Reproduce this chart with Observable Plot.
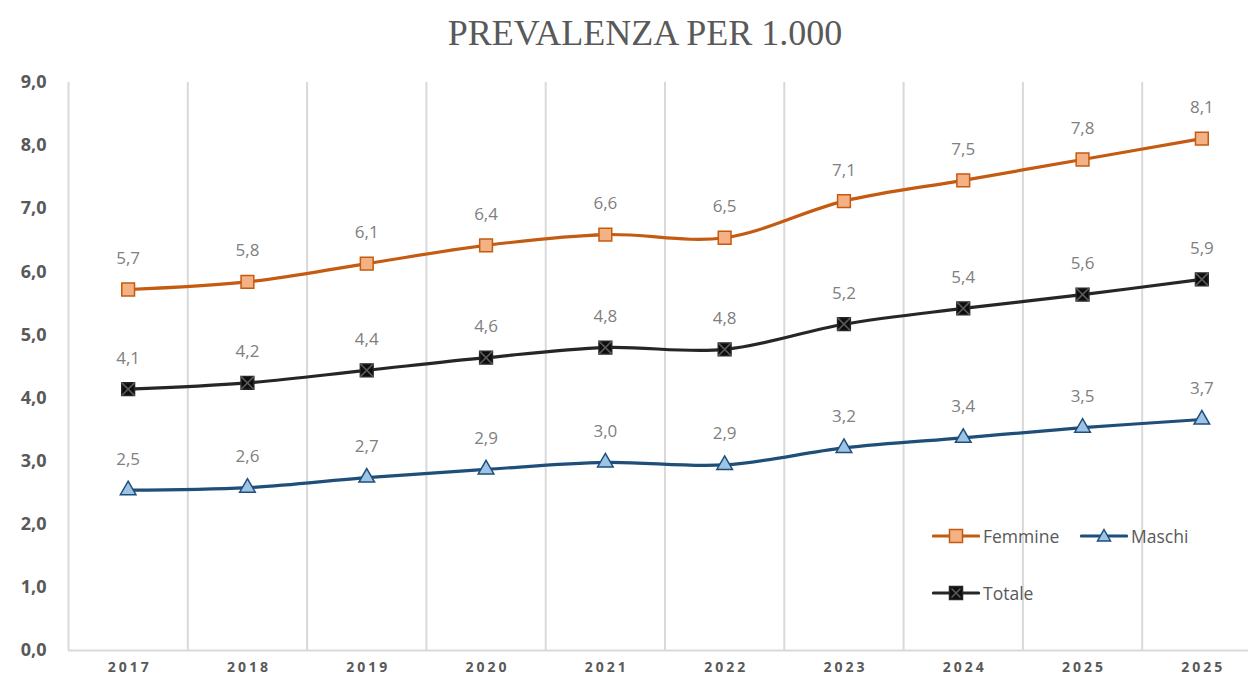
<!DOCTYPE html>
<html>
<head>
<meta charset="utf-8">
<script src="https://cdn.jsdelivr.net/npm/d3@7"></script>
<script src="https://cdn.jsdelivr.net/npm/@observablehq/plot@0.6"></script>
<style>
  html, body { margin: 0; padding: 0; background: #fff; }
  #wrap { position: relative; width: 1248px; height: 679px; overflow: hidden; }
  #title { height: 62px; line-height: 66px; text-align: center; font-family: "Liberation Serif", serif;
           font-size: 36px; color: #595959; padding-left: 42px; box-sizing: border-box; }
  .leg { position: absolute; display: flex; align-items: center; font-family: "Open Sans", sans-serif;
         font-size: 17.5px; color: #595959; }
  .leg svg { display: block; margin-right: 3px; }
  #chart svg [aria-label="x-axis tick label"] text { letter-spacing: 3px; }
</style>
</head>
<body>
<div id="wrap">
  <div id="title">PREVALENZA PER 1.000</div>
  <div id="chart"></div>
  <div id="legend"></div>
</div>
<script>
const years = ["2017","2018","2019","2020","2021","2022","2023","2024","2025","2025"];
const femmine = [5.72, 5.84, 6.13, 6.42, 6.59, 6.54, 7.12, 7.45, 7.78, 8.11];
const maschi  = [2.54, 2.58, 2.74, 2.87, 2.98, 2.94, 3.21, 3.37, 3.53, 3.66];
const totale  = [4.14, 4.24, 4.44, 4.64, 4.80, 4.77, 5.17, 5.42, 5.64, 5.88];
const yTicks = [0,1,2,3,4,5,6,7,8,9];

const series = [
  {name: "Femmine", values: femmine, line: "#c55a11", fill: "#f4b183", symbol: "square"},
  {name: "Maschi",  values: maschi,  line: "#1f4e79", fill: "#9dc3e6", symbol: "triangle"},
  {name: "Totale",  values: totale,  line: "#262626", fill: "#0d0d0d", symbol: "square"}
];

const rows = [];
for (const s of series) s.values.forEach((v, i) => rows.push({series: s.name, i, v}));
const bySeries = n => rows.filter(d => d.series === n);
const fmt = v => d3.format(".1f")(v).replace(".", ",");
const idx = years.map((_, i) => i);
const boundaries = idx.map(i => i - 0.5);

const marks = [
  Plot.ruleX(boundaries, {x: d => d, y1: 0, y2: 9, stroke: "#d9d9d9", strokeWidth: 2}),
  Plot.ruleY([0], {stroke: "#d9d9d9", strokeWidth: 2}),
  Plot.axisY({ticks: yTicks, tickSize: 0, tickPadding: 22, tickFormat: fmt, label: null,
              fontSize: 18, fontWeight: "bold", fill: "#595959"}),
  Plot.axisX({ticks: idx, tickSize: 0, tickPadding: 12, tickFormat: i => years[i], label: null,
              fontSize: 14, fontWeight: "bold", fill: "#595959", dx: 1.5})
];
for (const s of series) {
  const data = bySeries(s.name);
  marks.push(Plot.line(data, {x: "i", y: "v", stroke: s.line, strokeWidth: 3.2, curve: "catmull-rom"}));
}
for (const s of series) {
  const data = bySeries(s.name);
  if (s.symbol === "triangle") {
    marks.push(Plot.dot(data, {x: "i", y: "v", symbol: "triangle", r: 5.8, fill: s.fill, stroke: s.line, strokeWidth: 1.5}));
  } else {
    marks.push(Plot.dot(data, {x: "i", y: "v", symbol: "square", r: 7.2, fill: s.fill, stroke: s.line, strokeWidth: 1.5}));
  }
  if (s.name === "Totale") {
    marks.push(Plot.dot(data, {x: "i", y: "v", symbol: "times", r: 6, stroke: "#5a5a5a", strokeWidth: 1.6}));
  }
  marks.push(Plot.text(data, {x: "i", y: "v", text: d => fmt(d.v), dy: -31, fill: "#808080",
                              fontSize: 17, fontFamily: "Open Sans"}));
}

const chart = Plot.plot({
  width: 1248,
  height: 617,
  marginTop: 20,
  marginBottom: 29,
  marginLeft: 68,
  marginRight: 0,
  style: {fontFamily: "Open Sans", background: "#fff", overflow: "visible"},
  x: {domain: [-0.5, 9.5], range: [68, 1261], label: null},
  y: {domain: [0, 9], label: null},
  marks
});
document.getElementById("chart").appendChild(chart);

// Legend
const legendPos = {Femmine: [932, 524], Maschi: [1080, 524], Totale: [932, 581]};
const legend = document.getElementById("legend");
for (const s of series) {
  const [lx, ly] = legendPos[s.name];
  const div = document.createElement("div");
  div.className = "leg";
  div.style.left = lx + "px";
  div.style.top = ly + "px";
  let marker;
  if (s.symbol === "triangle") {
    marker = `<path d="M24,4.5 L30.5,16 L17.5,16 Z" fill="${s.fill}" stroke="${s.line}" stroke-width="1.5"/>`;
  } else {
    marker = `<rect x="17.5" y="4.5" width="13" height="13" fill="${s.fill}" stroke="${s.line}" stroke-width="1.5"/>`;
    if (s.name === "Totale") marker += `<path d="M19.5,6.5 L28.5,15.5 M28.5,6.5 L19.5,15.5" stroke="#5a5a5a" stroke-width="1.6"/>`;
  }
  div.innerHTML = `<svg width="48" height="22"><line x1="1.5" y1="11" x2="46.5" y2="11" stroke="${s.line}" stroke-width="3.2" stroke-linecap="round"/>${marker}</svg><span>${s.name}</span>`;
  legend.appendChild(div);
}
</script>
</body>
</html>
